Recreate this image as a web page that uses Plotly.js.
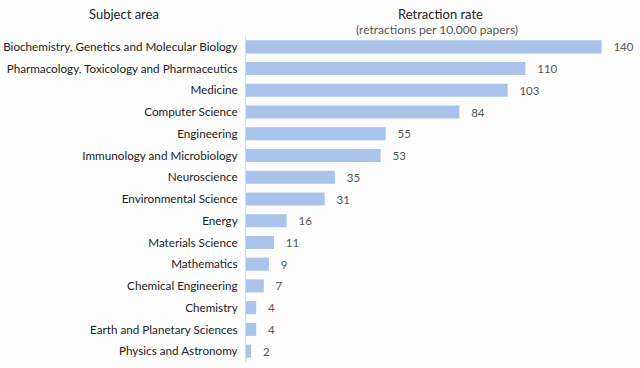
<!DOCTYPE html>
<html><head><meta charset="utf-8">
<script src="https://cdn.plot.ly/plotly-3.0.1.min.js"></script>
<style>html,body{margin:0;padding:0;background:#fdfdfe;}#c{width:640px;height:368px;}</style>
</head><body><div id="c"></div>
<script>
const subjects = [
  "Biochemistry, Genetics and Molecular Biology",
  "Pharmacology, Toxicology and Pharmaceutics",
  "Medicine",
  "Computer Science",
  "Engineering",
  "Immunology and Microbiology",
  "Neuroscience",
  "Environmental Science",
  "Energy",
  "Materials Science",
  "Mathematics",
  "Chemical Engineering",
  "Chemistry",
  "Earth and Planetary Sciences",
  "Physics and Astronomy"
];
const rates = [140, 110, 103, 84, 55, 53, 35, 31, 16, 11, 9, 7, 4, 4, 2];

const trace = {
  type: 'bar', orientation: 'h',
  y: subjects, x: rates,
  marker: {color: '#a9c3ea'},
  texttemplate: '   %{x}', textposition: 'outside', cliponaxis: false,
  textfont: {family: 'Lato, Liberation Sans, sans-serif', size: 11.5, color: '#555'},
  hoverinfo: 'none'
};
const layout = {
  width: 640, height: 368,
  margin: {l: 246, r: 13, t: 36, b: 6},
  paper_bgcolor: '#fdfdfe', plot_bgcolor: '#fdfdfe',
  bargap: 0.4,
  showlegend: false,
  font: {family: 'Lato, Liberation Sans, sans-serif', color: '#333'},
  xaxis: {range: [0, 150], visible: false, fixedrange: true},
  yaxis: {autorange: 'reversed', showline: true, linecolor: '#d9d9d9', linewidth: 1,
          ticks: '', ticklabelstandoff: 5,
          tickfont: {family: 'Lato, Liberation Sans, sans-serif', size: 11.7, color: '#222'}},
  annotations: [
    {text: 'Subject area', xref: 'paper', yref: 'paper', x: -0.32, y: 1, yshift: 22, showarrow: false, xanchor: 'center', yanchor: 'middle',
     font: {family: 'Lato, Liberation Sans, sans-serif', size: 13, color: '#222'}},
    {text: 'Retraction rate', xref: 'paper', yref: 'paper', x: 0.51, y: 1, yshift: 22, showarrow: false, xanchor: 'center', yanchor: 'middle',
     font: {family: 'Lato, Liberation Sans, sans-serif', size: 13, color: '#222'}},
    {text: '(retractions per 10,000 papers)', xref: 'paper', yref: 'paper', x: 0.5, y: 1, yshift: 7, showarrow: false, xanchor: 'center', yanchor: 'middle',
     font: {family: 'Lato, Liberation Sans, sans-serif', size: 12, color: '#555'}}
  ]
};
Plotly.newPlot('c', [trace], layout, {staticPlot: true, displayModeBar: false});
</script></body></html>
